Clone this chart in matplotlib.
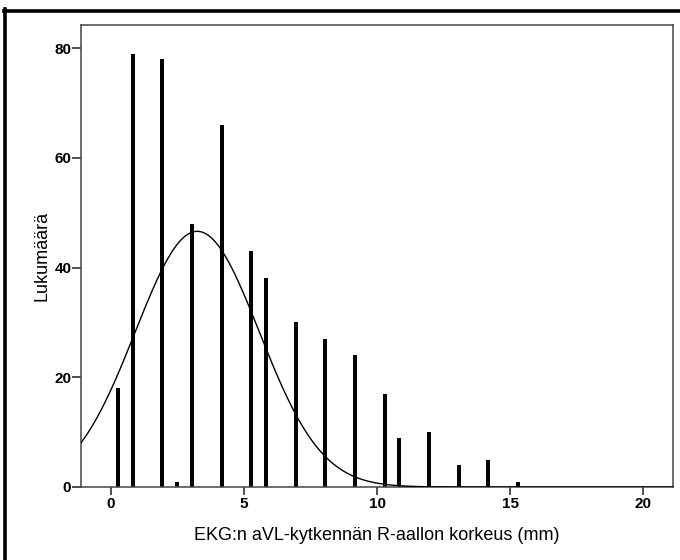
import numpy as np
import matplotlib
matplotlib.use("Agg")
import matplotlib.pyplot as plt
from matplotlib.lines import Line2D

# Data
bin_positions = [0.28, 0.83, 1.94, 2.50, 3.06, 4.17, 5.28, 5.83, 6.94, 8.06,
                 9.17, 10.28, 10.83, 11.94, 13.06, 14.17, 15.28]
counts = [18, 79, 78, 1, 48, 66, 43, 38, 30, 27, 24, 17, 9, 10, 4, 5, 1]

# Normal curve overlay parameters
curve_mean = 3.25
curve_sd = 2.33
curve_peak = 46.6

x_ticks = [0, 5, 10, 15, 20]
y_ticks = [0, 20, 40, 60, 80]
x_label = "EKG:n aVL-kytkennän R-aallon korkeus (mm)"
y_label = "Lukumäärä"

plt.rcParams['font.family'] = ['Liberation Sans', 'DejaVu Sans']

fig = plt.figure(figsize=(6.8, 5.6), dpi=100)
ax = fig.add_axes([81/680, 1-487/560, (672.7-81)/680, (487-25)/560])

ax.bar(bin_positions, counts, width=0.15, color='black', edgecolor='black',
       linewidth=0, zorder=2)

xmin, xmax = -1.115, 21.1
xs = np.linspace(xmin, xmax, 600)
ys = curve_peak * np.exp(-0.5 * ((xs - curve_mean) / curve_sd) ** 2)
ax.plot(xs, ys, color='black', linewidth=1.0, zorder=3)

ax.set_xlim(xmin, xmax)
ax.set_ylim(0, 84.2)
ax.set_xticks(x_ticks)
ax.set_yticks(y_ticks)

tick_font = dict(family=['Liberation Sans Narrow', 'Liberation Sans', 'DejaVu Sans'],
                 weight='bold', size=11)
ax.set_xticklabels([str(v) for v in x_ticks], **tick_font)
ax.set_yticklabels([str(v) for v in y_ticks], **tick_font)
ax.tick_params(axis='x', direction='out', length=5.5, width=1.2, color='#333333', pad=2)
ax.tick_params(axis='y', direction='out', length=6.5, width=1.2, color='#333333', pad=0.5)

for s in ax.spines.values():
    s.set_color('#444444')
    s.set_linewidth(1.1)

ax.set_xlabel(x_label, fontsize=13, family=['Liberation Sans', 'DejaVu Sans'])
ax.xaxis.set_label_coords((377-81)/(672.7-81), -(535-487)/(487-25))
ax.set_ylabel(y_label, fontsize=13, family=['Liberation Sans', 'DejaVu Sans'])
ax.yaxis.set_label_coords((42-81)/(672.7-81), 0.5)
ax.xaxis.label.set_va('center')
ax.yaxis.label.set_va('center')

# Outer black frame (only top and left visible, as cropped in the reference)
fig.add_artist(Line2D([4.5/680, 4.5/680], [0, 1-9/560], color='black',
                      linewidth=2.6, transform=fig.transFigure))
fig.add_artist(Line2D([3.5/680, 1], [1-10.5/560, 1-10.5/560], color='black',
                      linewidth=2.6, transform=fig.transFigure))

fig.savefig("out.png", dpi=100)
